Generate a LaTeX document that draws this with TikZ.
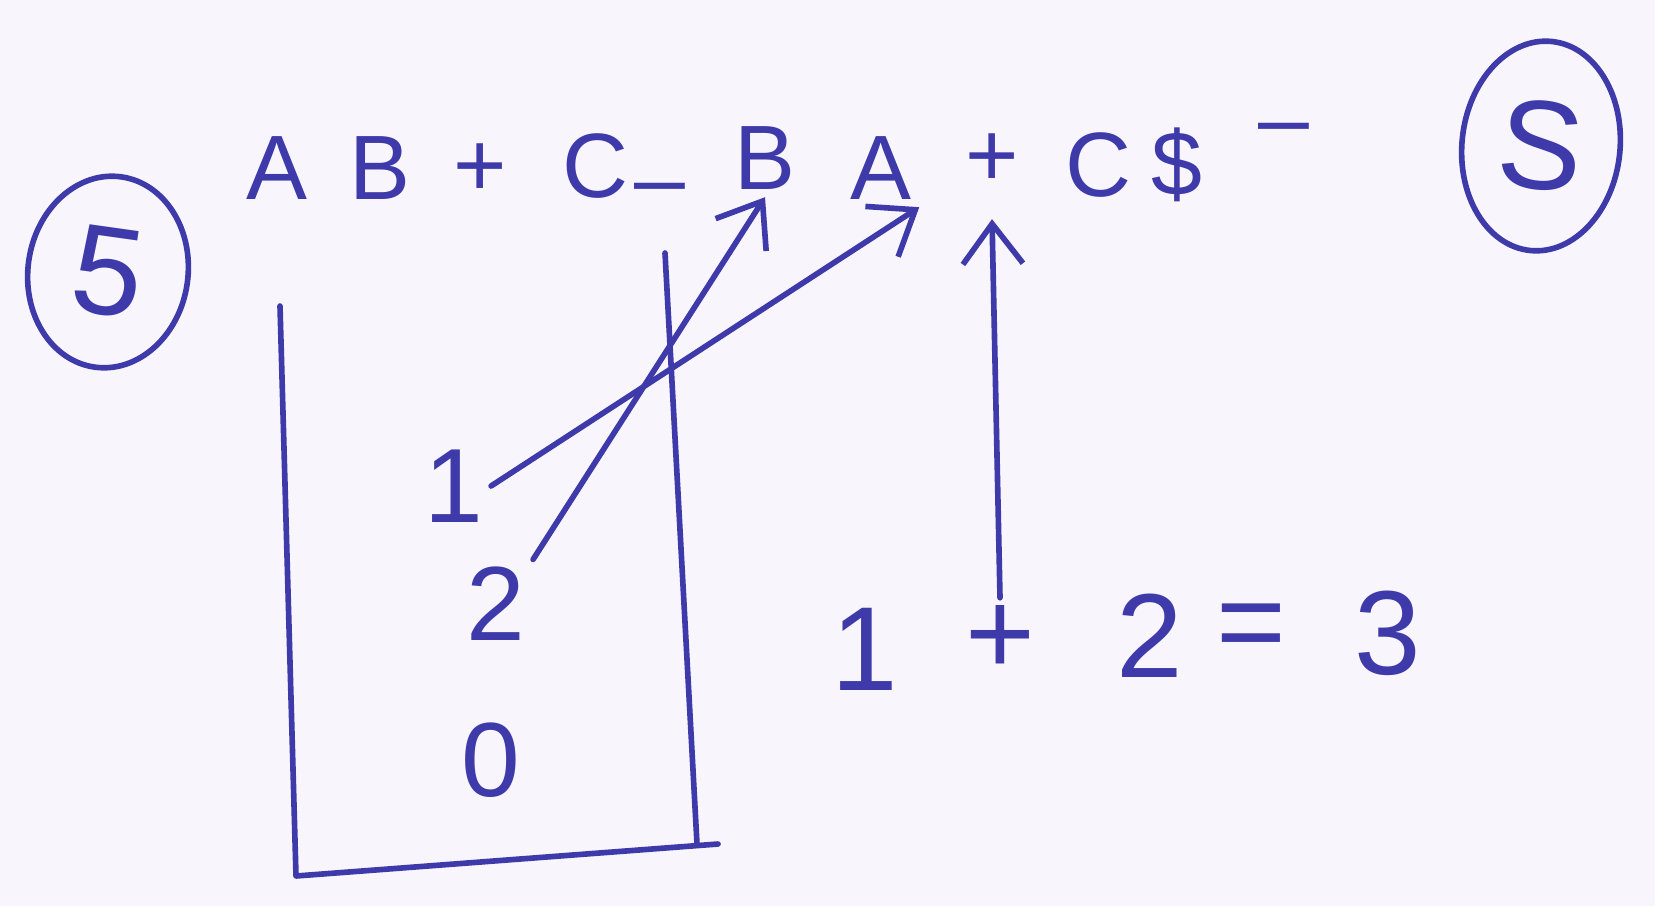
\documentclass[tikz,border=0pt]{standalone}
\usepackage{fontspec}
\setmainfont{Liberation Sans}
\usetikzlibrary{arrows.meta,shapes.geometric}
\definecolor{ink}{RGB}{62,58,170}
\definecolor{paper}{RGB}{248,245,252}
\tikzset{
  pen/.style={ink,line width=1.6pt,line cap=round,line join=round},
  glyph/.style={ink,inner sep=2pt,font=\fontsize{26}{30}\selectfont},
  digit/.style={ink,inner sep=2pt,font=\fontsize{30}{36}\selectfont},
  ring/.style={pen,ellipse,draw,inner sep=0pt,font=\fontsize{36}{42}\selectfont},
}
\begin{document}
\begin{tikzpicture}[x=0.01cm,y=-0.01cm,>={Straight Barb[length=4mm,width=6mm]}]
  % paper
  \fill[paper] (0,0) rectangle (1655,906);
  \useasboundingbox (0,0) rectangle (1655,906);
  % circled marks left and right
  \node[ring,minimum width=1.6cm,minimum height=1.92cm,rotate=-8] (five) at (108,272) {5};
  \node[ring,minimum width=1.58cm,minimum height=2.1cm,rotate=-6] (ess) at (1541,146) {S};
  % postfix expression, one node per symbol
  \foreach \i/\ch/\x/\y in {1/A/277/168, 2/B/380/168, 3/+/480/170, 4/C/596/166,
      5/\textendash/660/196, 6/B/765/158, 7/A/881/168, 8/+/992/160, 9/C/1098/165,
      10/\$/1177/165, 11/\textendash/1284/136}{
    \node[glyph] (e\i) at (\x,\y) {\ch};
  }
  % stack
  \draw[pen] (665,253)--(697,844);
  \draw[pen] (280,306)--(296,876)--(718,844);
  \node[digit] (s1) at (454,486) {1};
  \node[digit] (s2) at (496,604) {2};
  \node[digit] (s0) at (491,760) {0};
  % popped operands go up to the operator
  \draw[pen,->] (s1.east)--(e7.south east);
  \draw[pen,->] (s2.north east)--(e6.south);
  % result of the addition
  \foreach \i/\ch/\x/\y in {1/1/865/649, 2/+/1000/640, 3/2/1150/636, 4/=/1251/633, 5/3/1388/633}{
    \node[digit,font=\fontsize{34}{40}\selectfont] (q\i) at (\x,\y) {\ch};
  }
  \draw[pen,->] (q2.north)--([yshift=-0.25cm]e8.south);
\end{tikzpicture}
\end{document}
